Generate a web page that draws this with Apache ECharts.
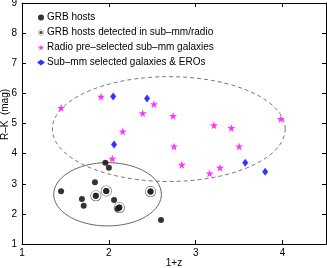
<!DOCTYPE html>
<html><head><meta charset="utf-8">
<script src="https://cdn.jsdelivr.net/npm/echarts@6/dist/echarts.min.js"></script>
<style>html,body{margin:0;padding:0;background:#fff}#c{width:327px;height:268px}</style>
</head><body><div id="c"></div>
<script>
// GRB hosts
const hostsX = [1.45, 1.69, 1.71, 1.84, 1.85, 1.96, 2.00, 1.97, 2.06, 2.10, 2.12, 2.48, 2.60];
const hostsY = [2.75, 2.49, 2.27, 3.05, 2.60, 3.70, 3.53, 2.76, 2.46, 2.17, 2.21, 2.74, 1.80];
// GRB hosts detected in sub-mm/radio
const detX = [1.85, 1.97, 2.12, 2.48];
const detY = [2.60, 2.76, 2.21, 2.74];
// Radio pre-selected sub-mm galaxies
const radioX = [1.45, 1.91, 2.16, 2.39, 2.52, 2.74, 3.21, 3.41, 3.98, 2.04, 2.75, 2.84, 3.16, 3.28, 3.50];
const radioY = [5.52, 5.89, 4.74, 5.34, 5.64, 5.25, 4.94, 4.85, 5.15, 3.83, 4.24, 3.63, 3.34, 3.53, 4.24];
// Sub-mm selected galaxies & EROs
const smmX = [2.05, 2.44, 2.06, 3.57, 3.80];
const smmY = [5.90, 5.83, 4.30, 3.70, 3.40];
// Ellipses: [centerX, centerY, radiusX, radiusY]
const solidEllipse = [1.985, 2.65, 0.62, 1.05];
const dashedEllipse = [2.69, 4.815, 1.34, 1.74];
const xTicks = [1, 2, 3, 4];
const yTicks = [1, 2, 3, 4, 5, 6, 7, 8, 9];
const names = ['GRB hosts', 'GRB hosts detected in sub\u2013mm/radio', 'Radio pre\u2013selected sub\u2013mm galaxies', 'Sub\u2013mm selected galaxies & EROs'];

function zip(xs, ys) { return xs.map((x, i) => [x, ys[i]]); }
function ellipsePts(e) {
  const pts = [];
  for (let k = 0; k <= 120; k++) {
    const t = 2 * Math.PI * k / 120;
    pts.push([e[0] + e[2] * Math.cos(t), e[1] + e[3] * Math.sin(t)]);
  }
  return pts;
}
const star = 'path://M0,-10L2.245,-3.09L9.51,-3.09L3.63,1.18L5.88,8.09L0,3.82L-5.88,8.09L-3.63,1.18L-9.51,-3.09L-2.245,-3.09Z';
const ring = 'path://M0,-10A10,10 0 1 1 0,10A10,10 0 1 1 0,-10ZM0,-9A9,9 0 1 0 0,9A9,9 0 1 0 0,-9ZM0,-5.6A5.6,5.6 0 1 1 0,5.6A5.6,5.6 0 1 1 0,-5.6Z';
const font = 'Liberation Sans';
const axisCommon = {
  axisLine: { show: true, onZero: false, lineStyle: { color: '#000', width: 1 } },
  axisTick: { show: true, inside: true, length: 4, lineStyle: { color: '#000' } },
  splitLine: { show: false }
};
const chart = echarts.init(document.getElementById('c'), null, { renderer: 'canvas' });
chart.setOption({
  animation: false,
  backgroundColor: '#fff',
  textStyle: { fontFamily: font },
  grid: { left: 22, right: 1, top: 3, bottom: 24, containLabel: false, outerBoundsMode: 'none' },
  legend: {
    left: 32, top: 7, orient: 'vertical', itemWidth: 8, itemHeight: 6, itemGap: 4,
    textStyle: { fontFamily: font, fontSize: 10, lineHeight: 11, color: '#000', padding: [0, 0, 0, -3] },
    data: names
  },
  xAxis: [
    Object.assign({ type: 'value', min: 1, max: 4.5, interval: 1, position: 'bottom',
      name: '1+z', nameLocation: 'middle', nameGap: 14, nameMoveOverlap: false,
      nameTextStyle: { fontFamily: font, fontSize: 10, color: '#000' },
      axisLabel: { color: '#000', fontSize: 10, fontFamily: font, margin: 4,
        formatter: v => xTicks.indexOf(v) >= 0 ? String(v) : '' } }, axisCommon),
    Object.assign({ type: 'value', min: 1, max: 4.5, interval: 1, position: 'top',
      axisLabel: { show: false } }, axisCommon)
  ],
  yAxis: [
    Object.assign({ type: 'value', min: 1, max: 9, interval: 1, position: 'left',
      name: 'R\u2013K  (mag)', nameLocation: 'middle', nameGap: 12, nameMoveOverlap: false,
      nameTextStyle: { fontFamily: font, fontSize: 10, color: '#000', padding: [0, 0, 0, 18] },
      axisLabel: { color: '#000', fontSize: 10, fontFamily: font, margin: 5,
        formatter: v => yTicks.indexOf(v) >= 0 ? String(v) : '' } }, axisCommon),
    Object.assign({ type: 'value', min: 1, max: 9, interval: 1, position: 'right',
      axisLabel: { show: false } }, axisCommon)
  ],
  series: [
    { type: 'line', data: ellipsePts(dashedEllipse), showSymbol: false, silent: true,
      lineStyle: { color: '#666', width: 0.9, type: [4, 3] }, z: 1 },
    { type: 'line', data: ellipsePts(solidEllipse), showSymbol: false, silent: true,
      lineStyle: { color: '#555', width: 0.9 }, z: 1 },
    { name: names[0], type: 'scatter', data: zip(hostsX, hostsY), symbol: 'circle', symbolSize: 6,
      itemStyle: { color: '#000' }, z: 3 },
    { name: names[1], type: 'scatter', data: zip(detX, detY), symbol: ring, symbolSize: 11,
      itemStyle: { color: '#222' }, z: 4 },
    { name: names[2], type: 'scatter', data: zip(radioX, radioY), symbol: star, symbolSize: 8,
      itemStyle: { color: '#ff00ff' }, z: 3 },
    { name: names[3], type: 'scatter', data: zip(smmX, smmY), symbol: 'diamond', symbolSize: [6, 8],
      itemStyle: { color: '#0000ff' }, z: 3 }
  ]
});
</script></body></html>
